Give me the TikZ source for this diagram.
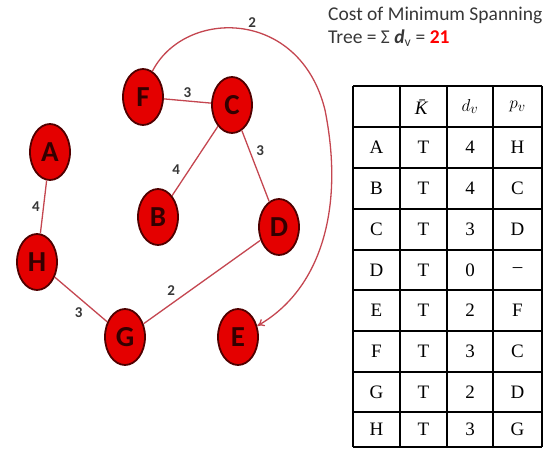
\documentclass[tikz,border=0pt]{standalone}
\usepackage{fontspec}
\setmainfont{Liberation Serif}
\setsansfont{Carlito}
\usetikzlibrary{shapes.geometric, arrows.meta, positioning}
\definecolor{cNode}{RGB}{228,0,0}
\definecolor{cRim}{RGB}{80,0,0}
\definecolor{cEdge}{RGB}{196,70,80}
\definecolor{cTxt}{RGB}{55,55,55}
\tikzset{
	vertex/.style={ellipse, draw=cRim, line width=1.8pt, fill=cNode, minimum width=40pt, minimum height=56pt, inner sep=0pt, font=\sffamily\bfseries\fontsize{29}{29}\selectfont, text=black!80!red},
	edge/.style={cEdge, line width=1.3pt},
	wt/.style={font=\sffamily\bfseries\fontsize{15}{15}\selectfont, text=cTxt, inner sep=3pt},
	title/.style={font=\sffamily\fontsize{19.5}{19.5}\selectfont, text=cTxt, inner sep=0pt, anchor=north west},
	cell/.style={font=\fontsize{19}{19}\selectfont, inner sep=0pt},
	grid/.style={line width=1.6pt, black},
}

\begin{document}
\begin{tikzpicture}[x=1pt, y=-1pt]
	\useasboundingbox (0,0) rectangle (552,449);
	% graph
	\node[vertex] (F) at (143,97) {F};
	\node[vertex] (C) at (232,105) {C};
	\node[vertex] (A) at (50,152) {A};
	\node[vertex] (B) at (158,217) {B};
	\node[vertex] (D) at (279,227) {D};
	\node[vertex] (H) at (37,262) {H};
	\node[vertex] (G) at (125,337) {G};
	\node[vertex] (E) at (238,337) {E};
	\draw[edge] (F) -- node[wt, above] {3} (C);
	\draw[edge] (C) -- node[wt, above left, pos=0.75] {4} (B);
	\draw[edge] (C) -- node[wt, above right, pos=0.4] {3} (D);
	\draw[edge] (A) -- node[wt, left] {4} (H);
	\draw[edge] (H) -- node[wt, below left, pos=0.6] {3} (G);
	\draw[edge] (G) -- node[wt, above left, pos=0.3] {2} (D);
	\draw[edge, -{To[length=7pt, width=8pt]}] (F.70) .. controls (185,8) and (300,8) .. node[wt, above, pos=0.55] {2} (325,110)
		.. controls (345,210) and (320,290) .. (E.30);
	% cost
	\node[title] (cost) at (328,7) {Cost of Minimum Spanning};
	\node[title, below=5pt of cost.south west, anchor=north west] (tree) {Tree = Σ \textbf{\textit{d}}\textsubscript{v} = \textcolor{red}{\textbf{21}}};
	% table
	\foreach \y in {86,127,168,209,250,290,331,372,412,447}
		\draw[grid] (353,\y) -- (542,\y);
	\foreach \x in {353,400,447,493,542}
		\draw[grid] (\x,86) -- (\x,447);
	\node[cell] (hK) at (423.5,107) {\textit{K̄}};
	\node[cell] (hd) at (470,106.5) {$d_v$};
	\node[cell] (hp) at (517.5,106.5) {$p_v$};
	\foreach \v/\k/\d/\p/\yc in {A/T/4/H/147.5, B/T/4/C/188.5, C/T/3/D/229.5, D/T/0/--/270, E/T/2/F/310.5, F/T/3/C/351.5, G/T/2/D/392, H/T/3/G/429.5}{
		\node[cell] (v\v) at (376.5,\yc) {\v};
		\node[cell] (k\v) at (423.5,\yc) {\k};
		\node[cell] (d\v) at (470,\yc) {\d};
		\node[cell] (p\v) at (517.5,\yc) {\p};
	}
\end{tikzpicture}
\end{document}
